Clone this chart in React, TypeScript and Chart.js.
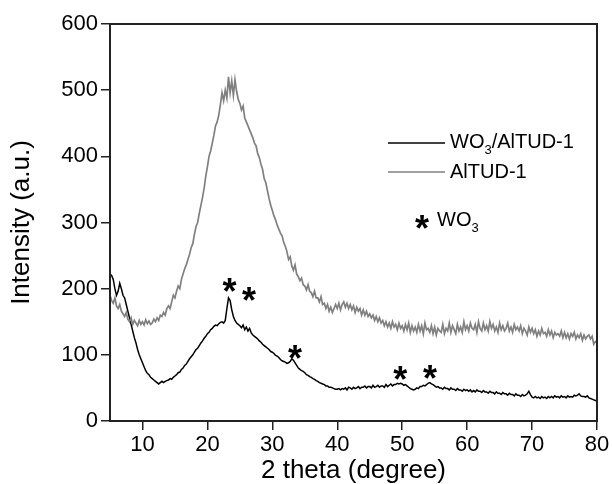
import React, { useEffect, useRef } from "react";
import { Chart, registerables } from "chart.js";

Chart.register(...registerables);

// 2θ sampling grid (degrees)
const angleStart = 5;
const angleStep = 0.25;

// WO3/AlTUD-1 intensity (a.u.), one value per 0.25° from 5° to 80°
const wo3AltudIntensity = [
  222, 220, 214, 200, 190, 196, 208, 200, 190, 186, 176, 166,
  156, 146, 136, 126, 118, 108, 100, 94, 88, 82, 76, 72,
  70, 66, 64, 62, 60, 58, 56, 58, 60, 58, 60, 61,
  62, 64, 63, 66, 68, 70, 73, 74, 78, 80, 84, 86,
  90, 94, 97, 100, 104, 108, 110, 114, 118, 121, 125, 128,
  132, 134, 138, 140, 143, 145, 144, 147, 149, 150, 148, 152,
  170, 186, 182, 168, 158, 152, 148, 146, 144, 141, 145, 138,
  142, 136, 140, 133, 130, 128, 126, 124, 121, 119, 116, 114,
  112, 110, 108, 105, 104, 102, 99, 98, 96, 93, 91, 90,
  89, 87, 88, 90, 94, 92, 88, 84, 80, 78, 76, 75,
  73, 70, 69, 67, 66, 64, 63, 61, 60, 58, 57, 56,
  55, 53, 53, 51, 51, 50, 49, 48, 48, 49, 47, 49,
  48, 50, 47, 51, 50, 48, 51, 49, 50, 52, 49, 51,
  51, 53, 50, 52, 52, 50, 54, 51, 52, 54, 51, 53,
  53, 51, 55, 52, 54, 56, 53, 55, 55, 57, 56, 57,
  56, 54, 55, 53, 51, 49, 48, 47, 48, 50, 49, 52,
  52, 54, 53, 55, 57, 58, 56, 55, 53, 51, 52, 50,
  50, 48, 51, 49, 49, 47, 50, 48, 48, 46, 49, 47,
  47, 45, 48, 46, 47, 45, 47, 44, 46, 44, 47, 45,
  45, 43, 46, 44, 44, 42, 45, 43, 43, 41, 44, 42,
  42, 40, 43, 41, 41, 39, 42, 40, 40, 38, 41, 39,
  39, 37, 40, 38, 39, 41, 45, 40, 36, 35, 37, 35,
  36, 34, 37, 35, 36, 34, 37, 35, 37, 35, 38, 36,
  37, 35, 38, 36, 37, 35, 38, 36, 37, 36, 39, 38,
  39, 41, 38, 37, 37, 36, 38, 35, 34, 33, 32, 31,
  30,
];

// AlTUD-1 intensity (a.u.), one value per 0.25° from 5° to 80°
const altudIntensity = [
  190, 182, 178, 186, 174, 170, 176, 166, 162, 158, 164, 154,
  150, 156, 146, 152, 148, 144, 152, 146, 150, 145, 153, 147,
  151, 146, 148, 154, 150, 156, 152, 160, 158, 164, 160, 170,
  174, 170, 180, 190, 186, 196, 204, 200, 214, 222, 230, 236,
  244, 252, 262, 268, 282, 294, 300, 314, 326, 338, 352, 370,
  384, 400, 408, 420, 432, 446, 452, 462, 478, 496, 484, 500,
  488, 520, 496, 514, 492, 516, 498, 486, 480, 470, 476, 458,
  452, 446, 440, 434, 428, 420, 416, 404, 398, 388, 380, 366,
  360, 348, 336, 326, 318, 310, 304, 296, 290, 284, 280, 270,
  264, 256, 244, 248, 234, 228, 236, 222, 218, 212, 216, 206,
  204, 198, 206, 196, 194, 188, 196, 186, 186, 180, 188, 176,
  178, 170, 176, 166, 172, 164, 170, 176, 170, 178, 168, 176,
  180, 172, 178, 170, 176, 168, 174, 164, 172, 166, 170, 160,
  168, 160, 166, 158, 162, 156, 160, 152, 158, 150, 156, 148,
  152, 144, 150, 142, 148, 140, 150, 142, 146, 138, 148, 140,
  144, 136, 146, 138, 148, 134, 144, 136, 142, 134, 146, 136,
  144, 132, 148, 138, 140, 134, 144, 132, 142, 130, 140, 136,
  134, 146, 132, 140, 136, 148, 134, 144, 138, 132, 146, 136,
  142, 134, 150, 138, 144, 136, 148, 140, 138, 146, 134, 150,
  140, 136, 148, 138, 144, 136, 150, 140, 146, 136, 142, 134,
  148, 138, 144, 136, 140, 148, 136, 142, 134, 146, 138, 142,
  136, 144, 132, 140, 136, 130, 142, 134, 140, 132, 138, 128,
  136, 130, 140, 132, 134, 128, 138, 130, 136, 126, 134, 130,
  132, 128, 136, 126, 134, 126, 132, 124, 132, 128, 134, 124,
  130, 126, 132, 122, 130, 124, 128, 130, 124, 128, 116, 120,
  118,
];

const seriesNames = ["WO3/AlTUD-1", "AlTUD-1"];
const xTickValues = [10, 20, 30, 40, 50, 60, 70, 80];
const yTickValues = [0, 100, 200, 300, 400, 500, 600];

// WO3 reflections marked with asterisks (2θ, marker height in a.u.)
const peakAngles = [23.4, 26.4, 33.5, 49.7, 54.3];
const peakMarkHeights = [208, 195, 107, 76, 77];

const FONT = '"Liberation Sans", Arial, Helvetica, sans-serif';

function toPoints(values: number[]) {
  return values.map((v, i) => ({ x: angleStart + i * angleStep, y: v }));
}

function drawWO3Text(ctx: CanvasRenderingContext2D, x: number, y: number, suffix: string) {
  ctx.textAlign = "left";
  ctx.textBaseline = "middle";
  ctx.font = `20px ${FONT}`;
  ctx.fillText("WO", x, y);
  let w = ctx.measureText("WO").width;
  ctx.font = `13px ${FONT}`;
  ctx.fillText("3", x + w, y + 8);
  w += ctx.measureText("3").width;
  if (suffix) {
    ctx.font = `20px ${FONT}`;
    ctx.fillText(suffix, x + w, y);
  }
}

function drawStar(ctx: CanvasRenderingContext2D, x: number, y: number) {
  ctx.font = `bold 36px ${FONT}`;
  ctx.textAlign = "center";
  ctx.textBaseline = "alphabetic";
  ctx.fillText("*", x, y + 21);
}

const framePlugin = {
  id: "frameAndNotes",
  afterDraw(chart: any) {
    const { ctx, chartArea: a, scales } = chart;
    ctx.save();
    ctx.strokeStyle = "#222";
    ctx.lineWidth = 2;
    ctx.strokeRect(a.left, a.top, a.right - a.left, a.bottom - a.top);

    ctx.fillStyle = "#000";
    peakAngles.forEach((ang, i) => {
      const px = scales.x.getPixelForValue(ang);
      const py = scales.y.getPixelForValue(peakMarkHeights[i]);
      drawStar(ctx, px, py);
    });

    // legend
    ctx.lineWidth = 1.6;
    ctx.strokeStyle = "#000";
    ctx.beginPath();
    ctx.moveTo(388, 143);
    ctx.lineTo(445, 143);
    ctx.stroke();
    ctx.fillStyle = "#000";
    drawWO3Text(ctx, 450, 142, seriesNames[0].slice(3));

    ctx.strokeStyle = "#808080";
    ctx.beginPath();
    ctx.moveTo(388, 172);
    ctx.lineTo(445, 172);
    ctx.stroke();
    ctx.font = `20px ${FONT}`;
    ctx.textAlign = "left";
    ctx.textBaseline = "middle";
    ctx.fillText(seriesNames[1], 450, 172);

    drawStar(ctx, 422, 220);
    drawWO3Text(ctx, 437, 220, "");
    ctx.restore();
  },
};

export default function App() {
  const ref = useRef<HTMLCanvasElement>(null);
  useEffect(() => {
    if (!ref.current) return;
    const chart = new Chart(ref.current, {
      type: "line",
      data: {
        datasets: [
          {
            label: seriesNames[1],
            data: toPoints(altudIntensity),
            borderColor: "#808080",
            borderWidth: 1.7,
            pointRadius: 0,
            tension: 0,
          },
          {
            label: seriesNames[0],
            data: toPoints(wo3AltudIntensity),
            borderColor: "#000",
            borderWidth: 1.5,
            pointRadius: 0,
            tension: 0,
          },
        ],
      },
      options: {
        responsive: false,
        animation: false,
        events: [],
        layout: { padding: { left: 0, right: 15, top: 24, bottom: 0 } },
        plugins: { legend: { display: false }, tooltip: { enabled: false } },
        scales: {
          x: {
            type: "linear",
            min: 5,
            max: 80,
            afterBuildTicks: (s: any) => {
              s.ticks = xTickValues.map((v) => ({ value: v }));
            },
            afterFit: (s: any) => {
              s.height = 63;
            },
            grid: { drawOnChartArea: false, tickLength: 9, color: "#222", lineWidth: 1.5 },
            border: { display: true, color: "#222", width: 2 },
            ticks: { color: "#000", font: { family: FONT, size: 22 }, padding: 2, maxRotation: 0 },
            title: {
              display: true,
              text: "2 theta (degree)",
              color: "#000",
              font: { family: FONT, size: 26, lineHeight: 1 },
              padding: { top: 0, bottom: 0 },
            },
          },
          y: {
            min: 0,
            max: 600,
            afterBuildTicks: (s: any) => {
              s.ticks = yTickValues.map((v) => ({ value: v }));
            },
            afterFit: (s: any) => {
              s.width = 110;
            },
            grid: { drawOnChartArea: false, tickLength: 9, color: "#222", lineWidth: 1.5 },
            border: { display: true, color: "#222", width: 2 },
            ticks: { color: "#000", font: { family: FONT, size: 22 }, padding: 3 },
            title: {
              display: true,
              text: "Intensity (a.u.)",
              color: "#000",
              font: { family: FONT, size: 26, lineHeight: 1 },
              padding: { top: 9, bottom: 0 },
            },
          },
        },
      },
      plugins: [framePlugin],
    });
    return () => chart.destroy();
  }, []);
  return (
    <div style={{ position: "fixed", left: 0, top: 0, width: 612, height: 484, background: "#fff" }}>
      <canvas ref={ref} width={612} height={484} style={{ display: "block" }} />
    </div>
  );
}
